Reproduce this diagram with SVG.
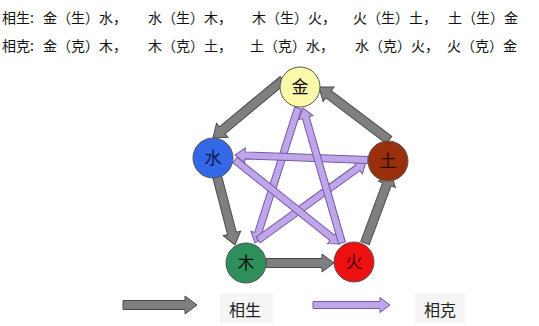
<svg xmlns="http://www.w3.org/2000/svg" width="539" height="326" viewBox="0 0 539 326">
<style>
.t{font-family:"Noto Sans CJK SC","Noto Sans",sans-serif;font-size:14px;fill:#111}
.n{font-family:"Noto Sans CJK SC","Noto Sans",sans-serif;font-size:17px;fill:#111;text-anchor:middle}
.lg{font-family:"Noto Sans CJK SC","Noto Sans",sans-serif;font-size:16px;fill:#222;text-anchor:middle}
.g{fill:#7f7f7f;stroke:#4a4a4a;stroke-width:1}
.p{fill:#bea6e8;stroke:#7658ad;stroke-width:1}
.c{stroke:#555;stroke-width:1}
</style>
<rect width="539" height="326" fill="#fff"/>
<g id="header">
<text class="t" x="2" y="23">相生:</text>
<text class="t" x="43" y="23">金（生）水，</text>
<text class="t" x="148" y="23">水（生）木，</text>
<text class="t" x="252" y="23">木（生）火，</text>
<text class="t" x="353" y="23">火（生）土，</text>
<text class="t" x="448" y="23">土（生）金</text>
<text class="t" x="2" y="51">相克:</text>
<text class="t" x="43" y="51">金（克）木，</text>
<text class="t" x="148" y="51">木（克）土，</text>
<text class="t" x="250" y="51">土（克）水，</text>
<text class="t" x="355" y="51">水（克）火，</text>
<text class="t" x="447" y="51">火（克）金</text>
</g>
<g id="connectors">
<polygon class="g" transform="translate(283,80) rotate(140.4)" points="0,-4.5 78.9,-4.5 78.9,-9 90.9,0 78.9,9 78.9,4.5 0,4.5"/>
<polygon class="g" transform="translate(217,176) rotate(75.4)" points="0,-4.5 59.3,-4.5 59.3,-9 71.3,0 59.3,9 59.3,4.5 0,4.5"/>
<polygon class="g" transform="translate(266,263)" points="0,-4.5 56,-4.5 56,-9 68,0 56,9 56,4.5 0,4.5"/>
<polygon class="g" transform="translate(365,243) rotate(-69.6)" points="0,-4.5 62.7,-4.5 62.7,-9 74.7,0 62.7,9 62.7,4.5 0,4.5"/>
<polygon class="g" transform="translate(389,140) rotate(-142.9)" points="0,-4.5 75.8,-4.5 75.8,-9 87.8,0 75.8,9 75.8,4.5 0,4.5"/>
<polygon class="p" transform="translate(298,108) rotate(107.67)" points="0,-3.5 131.7,-3.5 131.7,-7.5 141.7,0 131.7,7.5 131.7,3.5 0,3.5"/>
<polygon class="p" transform="translate(258,240) rotate(-35.84)" points="0,-3.5 123.2,-3.5 123.2,-7.5 133.2,0 123.2,7.5 123.2,3.5 0,3.5"/>
<polygon class="p" transform="translate(368,160) rotate(-177.85)" points="0,-3.5 123.1,-3.5 123.1,-7.5 133.1,0 123.1,7.5 123.1,3.5 0,3.5"/>
<polygon class="p" transform="translate(235,160) rotate(38.66)" points="0,-3.5 124.5,-3.5 124.5,-7.5 134.5,0 124.5,7.5 124.5,3.5 0,3.5"/>
<polygon class="p" transform="translate(342,243) rotate(-106.11)" points="0,-3.5 130.5,-3.5 130.5,-7.5 140.5,0 130.5,7.5 130.5,3.5 0,3.5"/>
</g>
<g id="jin"><circle class="c" cx="300" cy="87" r="20" fill="#fbf8a8"/><text class="n" x="300" y="93">金</text></g>
<g id="shui"><circle class="c" cx="213" cy="158" r="20" fill="#3468e6"/><text class="n" x="213" y="164" style="fill:#0a1a50">水</text></g>
<g id="tu"><circle class="c" cx="388" cy="161" r="20" fill="#9a2f0c"/><text class="n" x="388" y="167" style="fill:#2a0a00">土</text></g>
<g id="mu"><circle class="c" cx="246" cy="263" r="20" fill="#2f8f5a"/><text class="n" x="246" y="269">木</text></g>
<g id="huo"><circle class="c" cx="354" cy="262" r="20" fill="#ee1111"/><text class="n" x="354" y="268" style="fill:#400">火</text></g>
<g id="legend">
<polygon class="g" transform="translate(123,305)" points="0,-4.5 62,-4.5 62,-9 74,0 62,9 62,4.5 0,4.5"/>
<rect x="220" y="293" width="53" height="30" fill="#f5f5f5"/>
<text class="lg" x="245" y="316">相生</text>
<polygon class="p" transform="translate(313,305)" points="0,-3.5 67,-3.5 67,-7.5 77,0 67,7.5 67,3.5 0,3.5"/>
<rect x="415" y="293" width="50" height="30" fill="#f5f5f5"/>
<text class="lg" x="440" y="316">相克</text>
</g>
</svg>
